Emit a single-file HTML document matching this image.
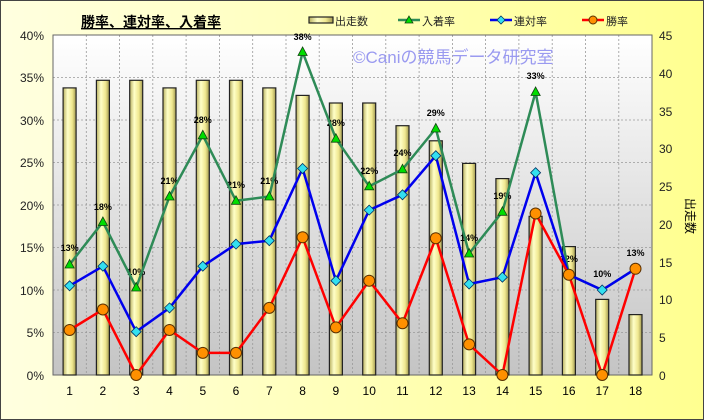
<!DOCTYPE html>
<html><head><meta charset="utf-8"><style>
html,body{margin:0;padding:0;width:704px;height:420px;overflow:hidden;background:#ffffa8}
svg{display:block;font-family:"Liberation Sans","Noto Sans CJK JP",sans-serif}
</style></head><body>
<svg width="704" height="420" viewBox="0 0 704 420" xmlns="http://www.w3.org/2000/svg">
<defs>
<linearGradient id="pa" x1="0" y1="0" x2="0" y2="1"><stop offset="0" stop-color="#ffffff"/><stop offset="1" stop-color="#c4c4c4"/></linearGradient>
<linearGradient id="bg" x1="0" y1="0" x2="1" y2="0"><stop offset="0" stop-color="#ffffe0"/><stop offset="1" stop-color="#ffff90"/></linearGradient>
<linearGradient id="bar" x1="0" y1="0" x2="1" y2="0"><stop offset="0" stop-color="#b8b060"/><stop offset="0.35" stop-color="#ffffc8"/><stop offset="0.7" stop-color="#f0e890"/><stop offset="1" stop-color="#a09850"/></linearGradient>
</defs>
<rect x="0.5" y="0.5" width="703" height="419" fill="url(#bg)" stroke="#444" stroke-width="1"/>
<rect x="53" y="35" width="599" height="340" fill="url(#pa)"/>
<g stroke="#999" stroke-width="0.8" stroke-dasharray="2,2">
<line x1="53" y1="77.5" x2="652" y2="77.5"/><line x1="53" y1="120" x2="652" y2="120"/><line x1="53" y1="162.5" x2="652" y2="162.5"/><line x1="53" y1="205" x2="652" y2="205"/><line x1="53" y1="247.5" x2="652" y2="247.5"/><line x1="53" y1="290" x2="652" y2="290"/><line x1="53" y1="332.5" x2="652" y2="332.5"/>
<line x1="86.3" y1="35" x2="86.3" y2="375"/><line x1="119.6" y1="35" x2="119.6" y2="375"/><line x1="152.8" y1="35" x2="152.8" y2="375"/><line x1="186.1" y1="35" x2="186.1" y2="375"/><line x1="219.4" y1="35" x2="219.4" y2="375"/><line x1="252.7" y1="35" x2="252.7" y2="375"/><line x1="286" y1="35" x2="286" y2="375"/><line x1="319.2" y1="35" x2="319.2" y2="375"/><line x1="352.5" y1="35" x2="352.5" y2="375"/><line x1="385.8" y1="35" x2="385.8" y2="375"/><line x1="419.1" y1="35" x2="419.1" y2="375"/><line x1="452.4" y1="35" x2="452.4" y2="375"/><line x1="485.6" y1="35" x2="485.6" y2="375"/><line x1="518.9" y1="35" x2="518.9" y2="375"/><line x1="552.2" y1="35" x2="552.2" y2="375"/><line x1="585.5" y1="35" x2="585.5" y2="375"/><line x1="618.8" y1="35" x2="618.8" y2="375"/>
</g>
<rect x="53" y="35" width="599" height="340" fill="none" stroke="#666" stroke-width="1"/>
<text x="353" y="63" font-size="17" fill="#9a9af0">©Caniの競馬データ研究室</text>
<g fill="url(#bar)" stroke="#222" stroke-width="1.2">
<rect x="63.1" y="87.9" width="13" height="287.1"/><rect x="96.4" y="80.3" width="13" height="294.7"/><rect x="129.7" y="80.3" width="13" height="294.7"/><rect x="163" y="87.9" width="13" height="287.1"/><rect x="196.3" y="80.3" width="13" height="294.7"/><rect x="229.5" y="80.3" width="13" height="294.7"/><rect x="262.8" y="87.9" width="13" height="287.1"/><rect x="296.1" y="95.4" width="13" height="279.6"/><rect x="329.4" y="103" width="13" height="272"/><rect x="362.7" y="103" width="13" height="272"/><rect x="396" y="125.7" width="13" height="249.3"/><rect x="429.3" y="140.8" width="13" height="234.2"/><rect x="462.6" y="163.4" width="13" height="211.6"/><rect x="495.9" y="178.6" width="13" height="196.4"/><rect x="529.1" y="216.3" width="13" height="158.7"/><rect x="562.4" y="246.6" width="13" height="128.4"/><rect x="595.7" y="299.4" width="13" height="75.6"/><rect x="629" y="314.6" width="13" height="60.4"/>
</g>
<g font-size="9" font-weight="bold" fill="#000" text-anchor="middle">
<text x="69.6" y="251">13%</text><text x="102.9" y="210">18%</text><text x="136.2" y="275">10%</text><text x="169.5" y="184">21%</text><text x="202.8" y="123">28%</text><text x="236" y="188">21%</text><text x="269.3" y="184">21%</text><text x="302.6" y="40">38%</text><text x="335.9" y="126">28%</text><text x="369.2" y="174">22%</text><text x="402.5" y="156">24%</text><text x="435.8" y="116">29%</text><text x="469.1" y="241">14%</text><text x="502.4" y="199">19%</text><text x="535.6" y="79">33%</text><text x="568.9" y="262">12%</text><text x="602.2" y="277">10%</text><text x="635.5" y="256">13%</text>
</g>
<polyline fill="none" stroke="#2e8b57" stroke-width="2.5" points="69.6,264.5 102.9,222 136.2,287.5 169.5,196.5 202.8,135.3 236,200.8 269.3,196.5 302.6,52 335.9,138.7 369.2,186.3 402.5,169.3 435.8,128.5 469.1,253.5 502.4,211.8 535.6,92 568.9,274.7 602.2,290 635.5,268.8"/>
<g fill="#00dd00" stroke="#114411" stroke-width="0.8">
<polygon points="69.6,259.5 65,268 74.2,268"/><polygon points="102.9,217 98.3,225.5 107.5,225.5"/><polygon points="136.2,282.5 131.6,291 140.8,291"/><polygon points="169.5,191.5 164.9,200 174.1,200"/><polygon points="202.8,130.3 198.2,138.8 207.4,138.8"/><polygon points="236,195.8 231.4,204.3 240.6,204.3"/><polygon points="269.3,191.5 264.7,200 273.9,200"/><polygon points="302.6,47 298,55.5 307.2,55.5"/><polygon points="335.9,133.7 331.3,142.2 340.5,142.2"/><polygon points="369.2,181.3 364.6,189.8 373.8,189.8"/><polygon points="402.5,164.3 397.9,172.8 407.1,172.8"/><polygon points="435.8,123.5 431.2,132 440.4,132"/><polygon points="469.1,248.5 464.5,257 473.7,257"/><polygon points="502.4,206.8 497.8,215.3 507,215.3"/><polygon points="535.6,87 531,95.5 540.2,95.5"/>
</g>
<polyline fill="none" stroke="#0000ee" stroke-width="2.5" points="69.6,285.8 102.9,266.2 136.2,331.7 169.5,307.9 202.8,266.2 236,244.1 269.3,240.7 302.6,168.5 335.9,280.7 369.2,210.1 402.5,194.8 435.8,155.7 469.1,284 502.4,277.2 535.6,172.7 568.9,274.7 602.2,290 635.5,268.8"/>
<g fill="#33e0f0" stroke="#003366" stroke-width="0.8">
<polygon points="69.6,280.8 74.6,285.8 69.6,290.8 64.6,285.8"/><polygon points="102.9,261.2 107.9,266.2 102.9,271.2 97.9,266.2"/><polygon points="136.2,326.7 141.2,331.7 136.2,336.7 131.2,331.7"/><polygon points="169.5,302.9 174.5,307.9 169.5,312.9 164.5,307.9"/><polygon points="202.8,261.2 207.8,266.2 202.8,271.2 197.8,266.2"/><polygon points="236,239.1 241,244.1 236,249.1 231,244.1"/><polygon points="269.3,235.7 274.3,240.7 269.3,245.7 264.3,240.7"/><polygon points="302.6,163.5 307.6,168.5 302.6,173.5 297.6,168.5"/><polygon points="335.9,275.7 340.9,280.7 335.9,285.7 330.9,280.7"/><polygon points="369.2,205.1 374.2,210.1 369.2,215.1 364.2,210.1"/><polygon points="402.5,189.8 407.5,194.8 402.5,199.8 397.5,194.8"/><polygon points="435.8,150.7 440.8,155.7 435.8,160.7 430.8,155.7"/><polygon points="469.1,279 474.1,284 469.1,289 464.1,284"/><polygon points="502.4,272.2 507.4,277.2 502.4,282.2 497.4,277.2"/><polygon points="535.6,167.7 540.6,172.7 535.6,177.7 530.6,172.7"/><polygon points="568.9,269.7 573.9,274.7 568.9,279.7 563.9,274.7"/><polygon points="602.2,285 607.2,290 602.2,295 597.2,290"/><polygon points="635.5,263.8 640.5,268.8 635.5,273.8 630.5,268.8"/>
</g>
<polyline fill="none" stroke="#ff0000" stroke-width="2.5" points="69.6,330 102.9,309.5 136.2,375 169.5,330 202.8,352.9 236,352.9 269.3,307.9 302.6,237.3 335.9,327.4 369.2,280.7 402.5,323.2 435.8,238.2 469.1,344.4 502.4,375 535.6,213.5 568.9,274.7 602.2,375 635.5,268.8"/>
<g fill="#ff9000" stroke="#5a3000" stroke-width="1">
<circle cx="69.6" cy="330" r="5.5"/><circle cx="102.9" cy="309.5" r="5.5"/><circle cx="136.2" cy="375" r="5.5"/><circle cx="169.5" cy="330" r="5.5"/><circle cx="202.8" cy="352.9" r="5.5"/><circle cx="236" cy="352.9" r="5.5"/><circle cx="269.3" cy="307.9" r="5.5"/><circle cx="302.6" cy="237.3" r="5.5"/><circle cx="335.9" cy="327.4" r="5.5"/><circle cx="369.2" cy="280.7" r="5.5"/><circle cx="402.5" cy="323.2" r="5.5"/><circle cx="435.8" cy="238.2" r="5.5"/><circle cx="469.1" cy="344.4" r="5.5"/><circle cx="502.4" cy="375" r="5.5"/><circle cx="535.6" cy="213.5" r="5.5"/><circle cx="568.9" cy="274.7" r="5.5"/><circle cx="602.2" cy="375" r="5.5"/><circle cx="635.5" cy="268.8" r="5.5"/>
</g>
<g font-size="12" fill="#222" text-anchor="end">
<text x="44" y="40">40%</text><text x="44" y="82">35%</text><text x="44" y="125">30%</text><text x="44" y="167">25%</text><text x="44" y="210">20%</text><text x="44" y="252">15%</text><text x="44" y="295">10%</text><text x="44" y="337">5%</text><text x="44" y="380">0%</text>
</g>
<g font-size="12" fill="#222">
<text x="659" y="40">45</text><text x="659" y="78">40</text><text x="659" y="116">35</text><text x="659" y="153">30</text><text x="659" y="191">25</text><text x="659" y="229">20</text><text x="659" y="267">15</text><text x="659" y="304">10</text><text x="659" y="342">5</text><text x="659" y="380">0</text>
</g>
<g font-size="12" fill="#000" text-anchor="middle">
<text x="69.6" y="395">1</text><text x="102.9" y="395">2</text><text x="136.2" y="395">3</text><text x="169.5" y="395">4</text><text x="202.8" y="395">5</text><text x="236" y="395">6</text><text x="269.3" y="395">7</text><text x="302.6" y="395">8</text><text x="335.9" y="395">9</text><text x="369.2" y="395">10</text><text x="402.5" y="395">11</text><text x="435.8" y="395">12</text><text x="469.1" y="395">13</text><text x="502.4" y="395">14</text><text x="535.6" y="395">15</text><text x="568.9" y="395">16</text><text x="602.2" y="395">17</text><text x="635.5" y="395">18</text>
</g>
<text x="0" y="0" font-size="12" fill="#000" transform="translate(686,198) rotate(90)">出走数</text>
<text x="81" y="27" font-size="14" font-weight="bold" fill="#000" text-decoration="underline">勝率、連対率、入着率</text>
<g font-size="11" fill="#222">
<rect x="309" y="17" width="24" height="6" fill="url(#bar)" stroke="#222" stroke-width="1.2"/><text x="335" y="25">出走数</text>
<line x1="398" y1="20" x2="420" y2="20" stroke="#2e8b57" stroke-width="2.5"/><polygon points="409,16 405,23 413,23" fill="#00dd00" stroke="#114411" stroke-width="0.8"/><text x="422" y="25">入着率</text>
<line x1="490" y1="20" x2="512" y2="20" stroke="#0000ee" stroke-width="2.5"/><polygon points="501,16 505,20 501,24 497,20" fill="#33e0f0" stroke="#003366" stroke-width="0.8"/><text x="514" y="25">連対率</text>
<line x1="582" y1="20" x2="604" y2="20" stroke="#ff0000" stroke-width="2.5"/><circle cx="593" cy="20" r="4" fill="#ff9000" stroke="#5a3000"/><text x="606" y="25">勝率</text>
</g>
</svg>
</body></html>
